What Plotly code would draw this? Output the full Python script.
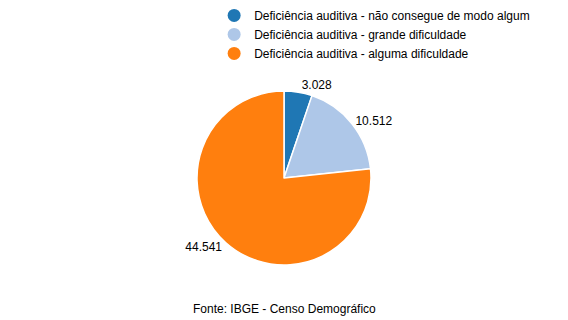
import plotly.graph_objects as go

categories = [
    "Deficiência auditiva - não consegue de modo algum",
    "Deficiência auditiva - grande dificuldade",
    "Deficiência auditiva - alguma dificuldade",
]
values = [3028, 10512, 44541]
colors = ["#1f77b4", "#aec7e8", "#ff7f0e"]
source_note = "Fonte: IBGE - Censo Demográfico"

fig = go.Figure()
fig.add_trace(go.Pie(
    labels=categories,
    values=values,
    marker=dict(colors=colors, line=dict(color="white", width=1.5)),
    sort=False,
    direction="clockwise",
    rotation=0,
    textposition="outside",
    texttemplate="%{value:,}",
    textfont=dict(family="Liberation Sans, Arial", size=12, color="#000"),
    showlegend=False,
    hoverinfo="label+value",
    domain=dict(x=[0, 1], y=[0, 1]),
))
for c, col in zip(categories, colors):
    fig.add_trace(go.Scatter(
        x=[None], y=[None], mode="markers", name=c,
        marker=dict(symbol="circle", size=13, color=col),
        showlegend=True,
    ))

fig.update_layout(
    width=568, height=320,
    separators=",.",
    paper_bgcolor="white", plot_bgcolor="white",
    margin=dict(l=0, r=0, t=91, b=55, autoexpand=False),
    font=dict(family="Liberation Sans, Arial", size=12, color="#000"),
    xaxis=dict(visible=False), yaxis=dict(visible=False),
    legend=dict(x=0.377, y=0.997, xanchor="left", yanchor="top", yref="container",
                traceorder="normal", tracegroupgap=0, itemwidth=30,
                bgcolor="rgba(0,0,0,0)", font=dict(size=12)),
    annotations=[dict(text=source_note, x=0.5, y=-0.253, xref="paper", yref="paper",
                      xanchor="center", yanchor="middle", showarrow=False,
                      font=dict(size=12))],
)
fig.write_html("out.html")
